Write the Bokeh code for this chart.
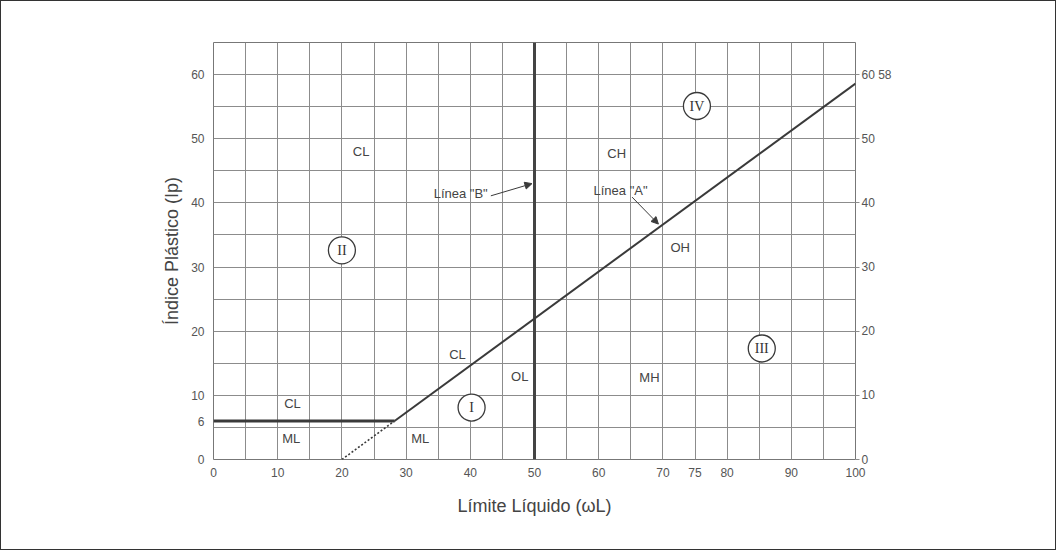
from bokeh.plotting import figure
from bokeh.models import Range1d, FixedTicker, LinearAxis, Label, Arrow, NormalHead, ColumnDataSource
from bokeh.core.properties import value
from bokeh.embed import file_html
from bokeh.resources import INLINE

# ---- data ----
x_ticks = [0, 10, 20, 30, 40, 50, 60, 70, 75, 80, 90, 100]
y_ticks_left = [0, 6, 10, 20, 30, 40, 50, 60]
y_ticks_right = [0, 10, 20, 30, 40, 50, 60]
right_label_overrides = {60: "60  58"}
grid_x = list(range(0, 101, 5))
grid_y = list(range(0, 66, 5))

# Line A (solid part) and its dotted extension, horizontal at Ip=6, Line B
line_a_x = [28.2, 100]
line_a_y = [6.0, 58.6]
line_a_dot_x = [20, 28.2]
line_a_dot_y = [0, 6.0]
hline_x = [0, 28.2]
hline_y = [6, 6]
line_b_x = [50, 50]
line_b_y = [0, 65]

zone_labels = ["CL", "CH", "OH", "CL", "OL", "MH", "CL", "ML", "ML"]
zone_x = [23.0, 62.8, 72.7, 38.0, 47.7, 67.9, 12.3, 12.1, 32.2]
zone_y = [48.0, 47.7, 33.0, 16.4, 12.9, 12.8, 8.7, 3.3, 3.3]

roman_labels = ["I", "II", "III", "IV"]
roman_x = [40.2, 20.0, 85.4, 75.3]
roman_y = [8.1, 32.6, 17.3, 55.1]

ink = "#3a3a3a"
gray = "#555555"
font = "Liberation Sans"

p = figure(width=1056, height=550, output_backend="svg", toolbar_location=None,
           x_range=Range1d(0, 100), y_range=Range1d(0, 65),
           min_border_left=212, min_border_right=202, min_border_top=41, min_border_bottom=92,
           background_fill_color="white", border_fill_color="white")
p.styles = {"border": "1px solid #333"}
p.outline_line_color = "#777777"
p.outline_line_width = 1

# grid every 5
p.xgrid.ticker = FixedTicker(ticks=grid_x)
p.ygrid.ticker = FixedTicker(ticks=grid_y)
for g in (p.xgrid, p.ygrid):
    g.grid_line_color = "#8c8c8c"
    g.grid_line_width = 1

# axes
p.xaxis.ticker = FixedTicker(ticks=x_ticks)
p.yaxis.ticker = FixedTicker(ticks=y_ticks_left)
for ax in (p.xaxis[0], p.yaxis[0]):
    ax.axis_line_color = None
    ax.major_tick_line_color = None
    ax.minor_tick_line_color = None
    ax.major_label_text_font = font
    ax.major_label_text_font_size = "12px"
    ax.major_label_text_color = gray
    ax.axis_label_text_font = font
    ax.axis_label_text_font_size = "18px"
    ax.axis_label_text_font_style = "normal"
    ax.axis_label_text_color = "#444444"
p.xaxis.major_label_standoff = 2
p.yaxis.major_label_standoff = 3
p.xaxis.axis_label = "Límite Líquido (ωL)"
p.yaxis.axis_label = "Índice Plástico (Ip)"
p.xaxis.axis_label_standoff = 16
p.yaxis.axis_label_standoff = 6

ra = LinearAxis(ticker=FixedTicker(ticks=y_ticks_right))
ra.axis_line_color = None
ra.major_tick_line_color = "#8c8c8c"
ra.major_tick_in = 0
ra.major_tick_out = 4
ra.minor_tick_line_color = None
ra.major_label_text_font = font
ra.major_label_text_font_size = "12px"
ra.major_label_text_color = gray
ra.major_label_standoff = 2
ra.major_label_overrides = right_label_overrides
p.add_layout(ra, "right")

# lines
p.line(line_b_x, line_b_y, line_color="#444444", line_width=3)
p.line(line_a_x, line_a_y, line_color=ink, line_width=2)
p.line(line_a_dot_x, line_a_dot_y, line_color=ink, line_width=1.6, line_dash="2 2")
p.line(hline_x, hline_y, line_color=ink, line_width=3)

# zone labels
src = ColumnDataSource(dict(x=zone_x, y=zone_y, t=zone_labels))
p.text(x="x", y="y", text="t", source=src, text_font=value(font), text_font_size="13px",
       text_color="#444444", text_align="center", text_baseline="middle")

# roman circles
rsrc = ColumnDataSource(dict(x=roman_x, y=roman_y, t=roman_labels))
p.scatter(x="x", y="y", source=rsrc, marker="circle", size=27, fill_color="white",
          line_color=ink, line_width=1.3)
p.text(x="x", y="y", text="t", source=rsrc, text_font=value("Liberation Serif"), text_font_size="14px",
       text_color="#333333", text_align="center", text_baseline="middle")

# annotations for lines
p.add_layout(Label(x=38.5, y=41.4, text='Línea "B"', text_font=font, text_font_size="13px",
                   text_color="#444444", text_align="center", text_baseline="middle"))
p.add_layout(Arrow(x_start=43.2, y_start=41.1, x_end=49.6, y_end=43.0, line_color=ink, line_width=1,
                   end=NormalHead(size=7, fill_color=ink, line_color=ink)))
p.add_layout(Label(x=63.4, y=42.0, text='Línea "A"', text_font=font, text_font_size="13px",
                   text_color="#444444", text_align="center", text_baseline="middle"))
p.add_layout(Arrow(x_start=65.2, y_start=40.9, x_end=69.3, y_end=36.7, line_color=ink, line_width=1,
                   end=NormalHead(size=7, fill_color=ink, line_color=ink)))

open("out.html", "w").write(file_html(p, INLINE))
